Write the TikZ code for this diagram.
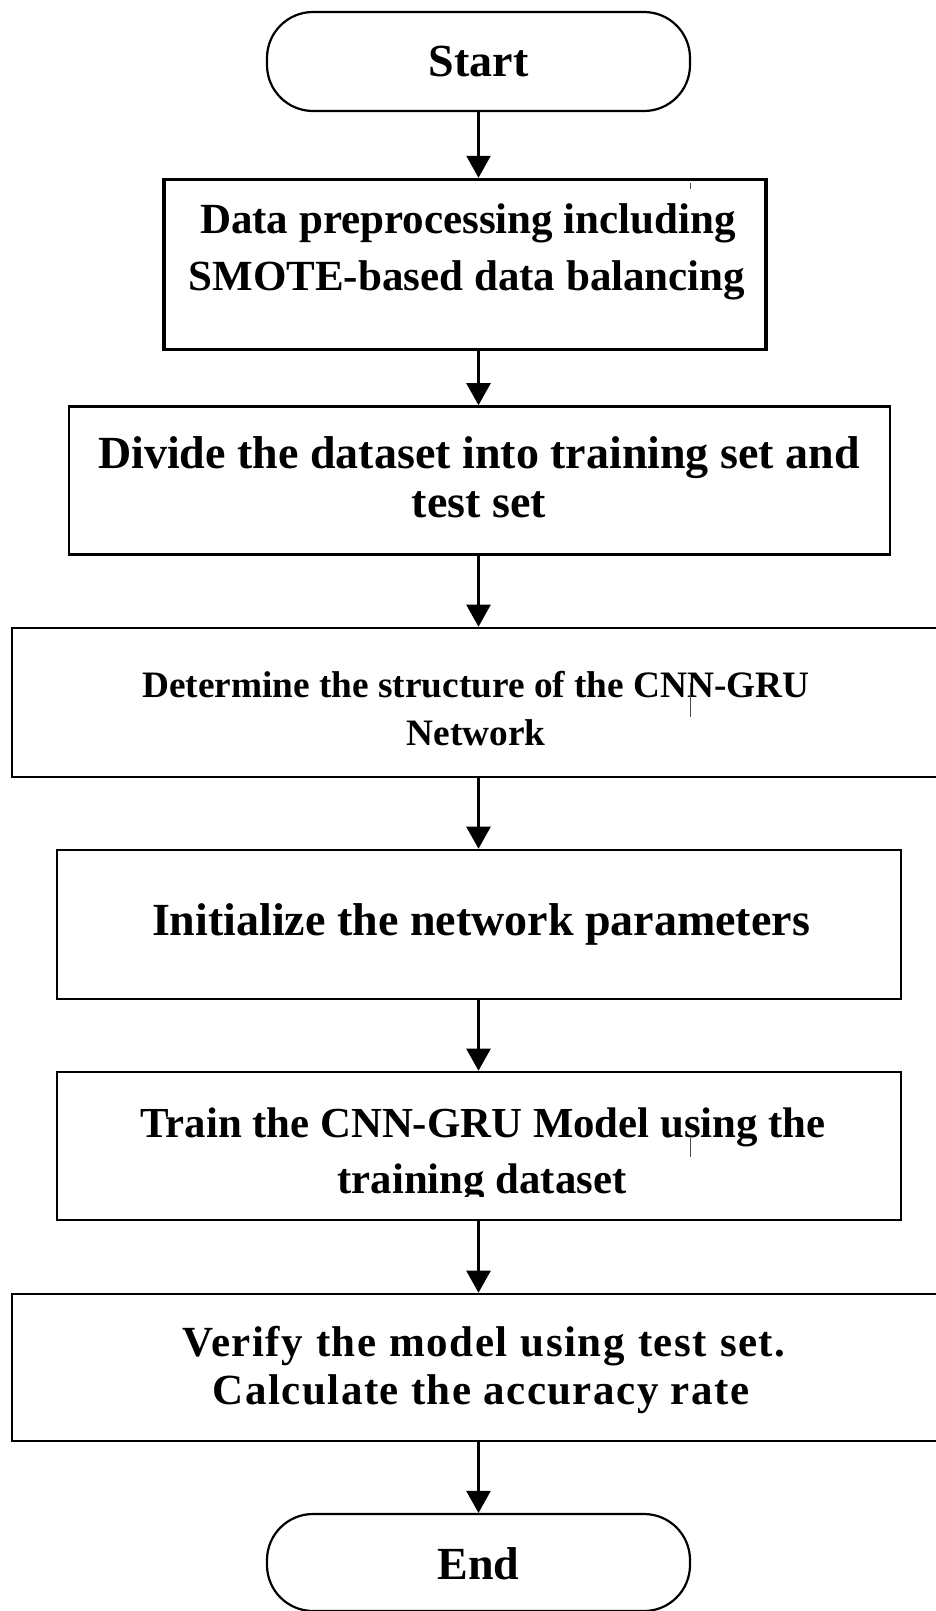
\documentclass[tikz,border=0pt]{standalone}
\usepackage{fontspec}
\setmainfont{Liberation Serif}
\usetikzlibrary{arrows.meta}
% wider inter-word gaps for the first verification line
\newcommand{\widewordgap}{\spaceskip=13.2pt\relax}
\begin{document}
\begin{tikzpicture}[x=1pt,y=-1pt,
  terminal/.style={draw=black, line width=2.2pt, rounded corners=46pt,
    minimum width=423pt, minimum height=#1, inner sep=0pt},
  stepbox/.style={draw=black, line width=2.6pt, inner sep=0pt},
  arr/.style={line width=2.4pt, -{Triangle[length=22pt,width=24pt]}},
  lbl/.style={anchor=base, inner sep=0pt, font=\fontsize{#1}{#1}\selectfont\bfseries},
  widelbl/.style={anchor=base, inner sep=0pt,
    font=\fontsize{#1}{#1}\selectfont\bfseries\addfontfeature{LetterSpace=3.4}},
  flaw/.style={line width=0.8pt, draw=black!70}
]
\useasboundingbox (0,0) rectangle (936,1611);

% terminals
\node[terminal=99pt] (start) at (478.5,61.5) {};
\node[lbl=46] (tstart) at (478.5,77) {Start};

% process steps
\node[stepbox, line width=3.4pt, minimum width=602pt, minimum height=170pt] (b1) at (465,264.5) {};
\node[lbl=43] (t1a) at (468,233) {Data preprocessing including};
\node[lbl=43] (t1b) at (467,290) {SMOTE-based data balancing};

\node[stepbox, minimum width=821pt, minimum height=148pt] (b2) at (479.5,480.5) {};
\node[lbl=46] (t2a) at (479,468) {Divide the dataset into training set and};
\node[lbl=46] (t2b) at (479,517) {test set};

\node[stepbox, minimum width=948pt, minimum height=149pt] (b3) at (486,702.5) {};
\node[lbl=37.3] (t3a) at (476,697) {Determine the structure of the CNN-GRU};
\node[lbl=37.3] (t3b) at (476,745) {Network};

\node[stepbox, minimum width=844pt, minimum height=149pt] (b4) at (479,924.5) {};
\node[lbl=46] (t4) at (481,935) {Initialize the network parameters};

\node[stepbox, minimum width=844pt, minimum height=148pt] (b5) at (479,1146) {};
\node[lbl=42.8] (t5a) at (483,1137) {Train the CNN-GRU Model using the};
\begin{scope}
  \clip (60,1150) rectangle (898,1196);
  \node[lbl=42.8] (t5b) at (482,1193) {training dataset};
\end{scope}

\node[stepbox, minimum width=948pt, minimum height=147pt] (b6) at (486,1367.5) {};
\node[widelbl=43] (t6a) at (484,1356) {\widewordgap Verify the model using test set.};
\node[widelbl=43] (t6b) at (481,1404) {Calculate the accuracy rate};

\node[terminal=97pt] (end) at (478.5,1562.5) {};
\node[lbl=46] (tend) at (478.5,1579) {End};

% small scan marks
\draw[flaw] (690,183) -- (690,189);
\draw[flaw] (690,683) -- (690,717);
\draw[flaw] (690,1138) -- (690,1157);

% connectors
\draw[arr] (start.south) -- (start.south |- b1.north);
\draw[arr] (b1.south -| start) -- (b2.north -| start);
\draw[arr] (b2.south -| start) -- (b3.north -| start);
\draw[arr] (b3.south -| start) -- (b4.north -| start);
\draw[arr] (b4.south -| start) -- (b5.north -| start);
\draw[arr] (b5.south -| start) -- (b6.north -| start);
\draw[arr] (b6.south -| start) -- (end.north);
\end{tikzpicture}
\end{document}
